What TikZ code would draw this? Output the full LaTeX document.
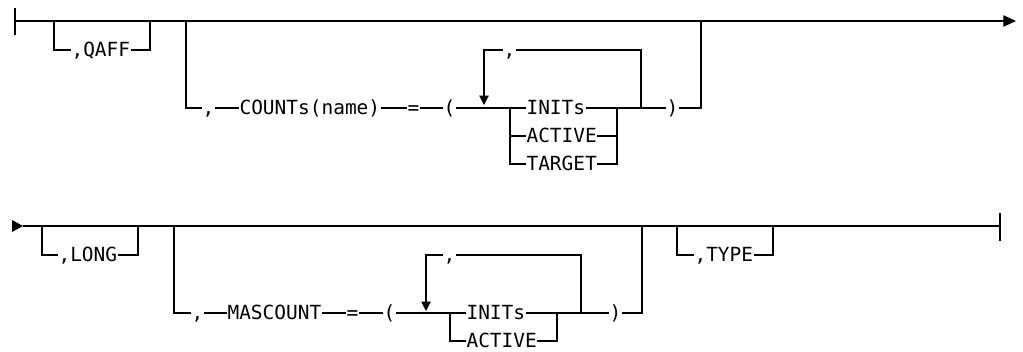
\documentclass[tikz,border=0pt]{standalone}
\usepackage{fontspec}
\setmonofont{DejaVu Sans Mono}
\usetikzlibrary{arrows.meta}

\tikzset{
  kw/.style={font=\ttfamily\fontsize{14.6}{16}\selectfont,inner sep=0pt,
    text height=10.4pt,text depth=0pt,anchor=west},
  endtip/.style={-{Triangle[length=9.5pt,width=8.5pt]}},
  looptip/.style={-{Triangle[length=7pt,width=7pt]}},
}

\begin{document}
\begin{tikzpicture}[x=0.75pt,y=-0.75pt,line width=0.8pt]
\useasboundingbox (0,0) rectangle (1023,352);
% first line
\coordinate (top-in) at (15,21);
\coordinate (top-out) at (1016,21);
\draw (15,8)--(15,35);
\draw[endtip] (top-in)--(top-out);
% ,QAFF
\node[kw] (qaff) at (71,50) {,QAFF};
\draw (54,21) |- (qaff.west);
\draw (qaff.east) -| (150,21);
% ,COUNTs(name)=(...)
\node[kw] (ccomma) at (202,108) {,};
\node[kw] (counts) at (239,108) {COUNTs(name)};
\node[kw] (ceq) at (407,108) {=};
\node[kw] (clpar) at (443,108) {(};
\node[kw] (cinits) at (526,108) {INITs};
\node[kw] (cactive) at (526,136) {ACTIVE};
\node[kw] (ctarget) at (526,164) {TARGET};
\node[kw] (crpar) at (666,108) {)};
\node[kw] (crep) at (503,50) {,};
\draw (186,21) |- (ccomma.west);
\draw (ccomma.east)--(counts.west);
\draw (counts.east)--(ceq.west);
\draw (ceq.east)--(clpar.west);
\draw (clpar.east)--(cinits.west);
\draw (510,108) |- (cactive.west);
\draw (510,108) |- (ctarget.west);
\draw (cinits.east)--(crpar.west);
\draw (cactive.east) -| (617,108);
\draw (ctarget.east) -| (617,108);
\draw (641,108) |- (crep.east);
\draw[looptip] (crep.west) -| (484,105);
\draw (crpar.east) -| (701,21);
% second line
\coordinate (bot-in) at (23,226);
\coordinate (bot-out) at (1000,226);
\fill (12,220)--(23,226)--(12,232)--cycle;
\draw (bot-in)--(bot-out);
\draw (1000,213)--(1000,241);
% ,LONG
\node[kw] (long) at (58,255) {,LONG};
\draw (42,226) |- (long.west);
\draw (long.east) -| (138,226);
% ,MASCOUNT=(...)
\node[kw] (mcomma) at (191,313) {,};
\node[kw] (mascount) at (227,313) {MASCOUNT};
\node[kw] (meq) at (346,313) {=};
\node[kw] (mlpar) at (383,313) {(};
\node[kw] (minits) at (466,313) {INITs};
\node[kw] (mactive) at (466,341) {ACTIVE};
\node[kw] (mrpar) at (609,313) {)};
\node[kw] (mrep) at (443,255) {,};
\draw (174,226) |- (mcomma.west);
\draw (mcomma.east)--(mascount.west);
\draw (mascount.east)--(meq.west);
\draw (meq.east)--(mlpar.west);
\draw (mlpar.east)--(minits.west);
\draw (450,313) |- (mactive.west);
\draw (minits.east)--(mrpar.west);
\draw (mactive.east) -| (557,313);
\draw (581,313) |- (mrep.east);
\draw[looptip] (mrep.west) -| (426,311);
\draw (mrpar.east) -| (642,226);
% ,TYPE
\node[kw] (type) at (694,255) {,TYPE};
\draw (677,226) |- (type.west);
\draw (type.east) -| (773,226);
\end{tikzpicture}
\end{document}
